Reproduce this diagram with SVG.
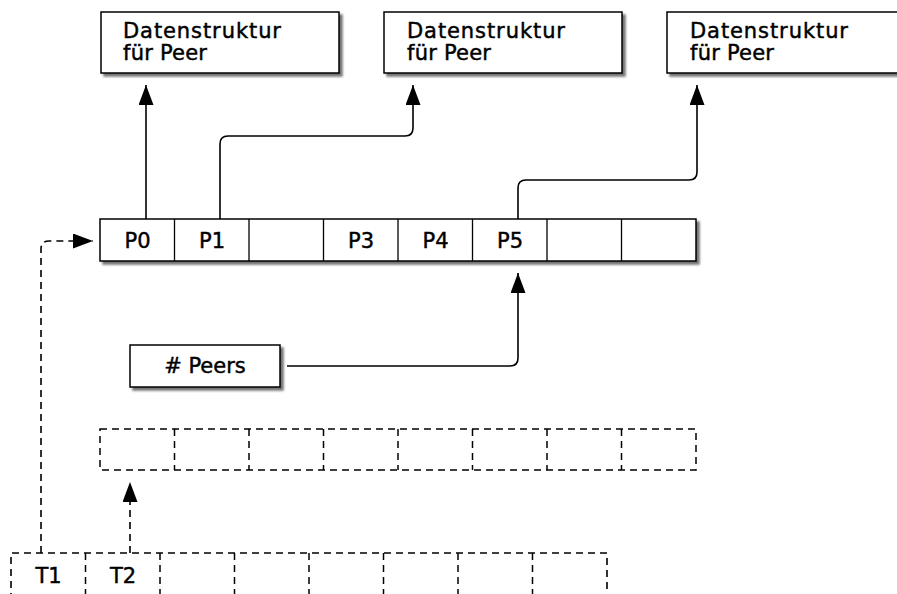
<svg xmlns="http://www.w3.org/2000/svg" width="897" height="594" viewBox="0 0 897 594">
  <defs>
    <filter id="shadow" x="-10%" y="-20%" width="130%" height="160%">
      <feDropShadow dx="3" dy="3" stdDeviation="1.2" flood-color="#000" flood-opacity="0.55"/>
    </filter>
    <marker id="arrow" markerUnits="userSpaceOnUse" markerWidth="22" markerHeight="16" refX="20" refY="7.5" orient="auto">
      <path d="M0,0 L20,7.5 L0,15 Z" fill="#000"/>
    </marker>
  </defs>
  <style>
    .box { fill: #fff; stroke: #000; stroke-width: 1.5; }
    .dbox { fill: none; stroke: #000; stroke-width: 1.5; stroke-dasharray: 7 5; }
    .div { stroke: #000; stroke-width: 1.3; }
    .ddiv { stroke: #000; stroke-width: 1.5; stroke-dasharray: 7 5; }
    .conn { fill: none; stroke: #000; stroke-width: 1.6; }
    .dconn { fill: none; stroke: #000; stroke-width: 1.6; stroke-dasharray: 7 5; }
    text { font-family: "DejaVu Sans", "Liberation Sans", sans-serif; font-size: 21px; fill: #000; stroke: #000; stroke-width: 0.45; }
    .c { text-anchor: middle; }
  </style>
  <rect width="897" height="594" fill="#fff"/>

  <!-- peer data structures -->
  <g id="peer-data-1">
    <rect class="box" x="101" y="12" width="238" height="61" filter="url(#shadow)"/>
    <text x="123" y="38" textLength="158" lengthAdjust="spacing">Datenstruktur</text>
    <text x="123" y="60" textLength="84" lengthAdjust="spacing">für Peer</text>
  </g>
  <g id="peer-data-2">
    <rect class="box" x="384" y="12" width="238" height="61" filter="url(#shadow)"/>
    <text x="407" y="38" textLength="158" lengthAdjust="spacing">Datenstruktur</text>
    <text x="407" y="60" textLength="84" lengthAdjust="spacing">für Peer</text>
  </g>
  <g id="peer-data-3">
    <rect class="box" x="667" y="12" width="238" height="61" filter="url(#shadow)"/>
    <text x="690" y="38" textLength="158" lengthAdjust="spacing">Datenstruktur</text>
    <text x="690" y="60" textLength="84" lengthAdjust="spacing">für Peer</text>
  </g>

  <!-- peer slot array -->
  <g id="peer-array">
    <rect class="box" x="100" y="219" width="596" height="42" filter="url(#shadow)"/>
    <line class="div" x1="174.5" y1="219" x2="174.5" y2="261"/>
    <line class="div" x1="249" y1="219" x2="249" y2="261"/>
    <line class="div" x1="323.5" y1="219" x2="323.5" y2="261"/>
    <line class="div" x1="398" y1="219" x2="398" y2="261"/>
    <line class="div" x1="472.5" y1="219" x2="472.5" y2="261"/>
    <line class="div" x1="547" y1="219" x2="547" y2="261"/>
    <line class="div" x1="621.5" y1="219" x2="621.5" y2="261"/>
    <text class="c" x="137.5" y="248">P0</text>
    <text class="c" x="212" y="248">P1</text>
    <text class="c" x="361" y="248">P3</text>
    <text class="c" x="435.5" y="248">P4</text>
    <text class="c" x="510" y="248">P5</text>
  </g>

  <!-- peer counter -->
  <g id="peer-count">
    <rect class="box" x="130" y="345" width="150" height="42" filter="url(#shadow)"/>
    <text class="c" x="205" y="373"># Peers</text>
  </g>

  <!-- dashed spare array -->
  <g id="spare-array">
    <rect class="dbox" x="100" y="429" width="596" height="41"/>
    <line class="ddiv" x1="174.5" y1="429" x2="174.5" y2="470"/>
    <line class="ddiv" x1="249" y1="429" x2="249" y2="470"/>
    <line class="ddiv" x1="323.5" y1="429" x2="323.5" y2="470"/>
    <line class="ddiv" x1="398" y1="429" x2="398" y2="470"/>
    <line class="ddiv" x1="472.5" y1="429" x2="472.5" y2="470"/>
    <line class="ddiv" x1="547" y1="429" x2="547" y2="470"/>
    <line class="ddiv" x1="621.5" y1="429" x2="621.5" y2="470"/>
  </g>

  <!-- dashed thread row -->
  <g id="thread-array">
    <path class="dconn" d="M11,600 V553 H607 V600"/>
    <line class="ddiv" x1="85.5" y1="553" x2="85.5" y2="600"/>
    <line class="ddiv" x1="160" y1="553" x2="160" y2="600"/>
    <line class="ddiv" x1="234.5" y1="553" x2="234.5" y2="600"/>
    <line class="ddiv" x1="309" y1="553" x2="309" y2="600"/>
    <line class="ddiv" x1="383.5" y1="553" x2="383.5" y2="600"/>
    <line class="ddiv" x1="458" y1="553" x2="458" y2="600"/>
    <line class="ddiv" x1="532.5" y1="553" x2="532.5" y2="600"/>
    <text class="c" x="48.5" y="583">T1</text>
    <text class="c" x="123" y="583">T2</text>
  </g>

  <!-- connectors -->
  <g id="connectors">
    <path class="conn" d="M146,219 V85" marker-end="url(#arrow)"/>
    <path class="conn" d="M220,219 V144 Q220,136 228,136 H405 Q413,136 413,128 V85" marker-end="url(#arrow)"/>
    <path class="conn" d="M518,219 V188 Q518,180 526,180 H689 Q697,180 697,172 V85" marker-end="url(#arrow)"/>
    <path class="conn" d="M287,366 H510 Q518,366 518,358 V273" marker-end="url(#arrow)"/>
    <path class="dconn" d="M130,553 V482" marker-end="url(#arrow)"/>
    <path class="dconn" d="M41,553 V249 Q41,241 49,241 H93" marker-end="url(#arrow)"/>
  </g>
</svg>
